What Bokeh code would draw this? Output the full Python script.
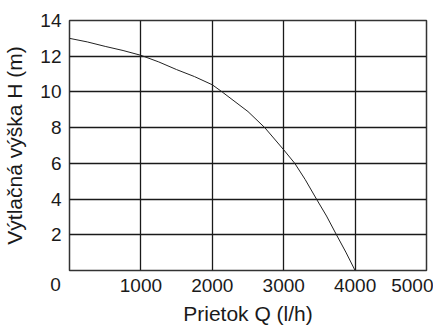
from bokeh.plotting import figure
from bokeh.embed import file_html
from bokeh.resources import INLINE
from bokeh.models import FixedTicker, Label, Range1d

flow = [0, 250, 500, 750, 1000, 1250, 1500, 1750, 2000, 2138, 2500, 2735, 3000, 3155, 3300, 3459, 3600, 3739, 3870, 4000]
head = [13.0, 12.8, 12.55, 12.32, 12.05, 11.68, 11.25, 10.86, 10.4, 10.0, 8.9, 8.0, 6.76, 6.0, 5.1, 4.0, 3.05, 2.0, 1.03, 0.0]
x_ticks = [1000, 2000, 3000, 4000, 5000]
y_ticks = [2, 4, 6, 8, 10, 12, 14]

FONT = "Liberation Sans"

p = figure(frame_width=357, frame_height=250, output_backend="svg", toolbar_location=None,
           x_range=Range1d(0, 5000), y_range=Range1d(0, 14),
           min_border_left=68, min_border_right=7, min_border_top=20, min_border_bottom=56)

p.line(flow, head, line_color="#222222", line_width=1)

p.xaxis.ticker = FixedTicker(ticks=x_ticks)
p.yaxis.ticker = FixedTicker(ticks=y_ticks)
for ax in (p.xaxis, p.yaxis):
    ax.axis_line_color = None
    ax.major_tick_line_color = None
    ax.minor_tick_line_color = None
    ax.major_tick_out = 0
    ax.major_tick_in = 0
    ax.minor_tick_out = 0
    ax.minor_tick_in = 0
    ax.major_label_text_font = FONT
    ax.major_label_text_font_size = "19px"
    ax.major_label_text_color = "#1a1a1a"
    ax.axis_label_text_font = FONT
    ax.axis_label_text_font_size = "21px"
    ax.axis_label_text_font_style = "normal"
    ax.axis_label_text_color = "#1a1a1a"
p.xaxis.major_label_standoff = 8
p.yaxis.major_label_standoff = 8
p.xaxis.axis_label = "Prietok Q (l/h)"
p.yaxis.axis_label = "Výtlačná výška H (m)"
p.xaxis.axis_label_standoff = 7
p.yaxis.axis_label_standoff = 11

p.xgrid.ticker = FixedTicker(ticks=x_ticks)
p.ygrid.ticker = FixedTicker(ticks=y_ticks)
for g in (p.xgrid, p.ygrid):
    g.grid_line_color = "#1a1a1a"
    g.grid_line_width = 1.3
p.outline_line_color = "#333333"
p.outline_line_width = 1.5

p.add_layout(Label(x=55, y=284, x_units="canvas", y_units="canvas", text="0",
                   text_font=FONT, text_font_size="19px", text_color="#1a1a1a",
                   text_align="center", text_baseline="middle"), "below")

open("out.html", "w").write(file_html(p, INLINE))
